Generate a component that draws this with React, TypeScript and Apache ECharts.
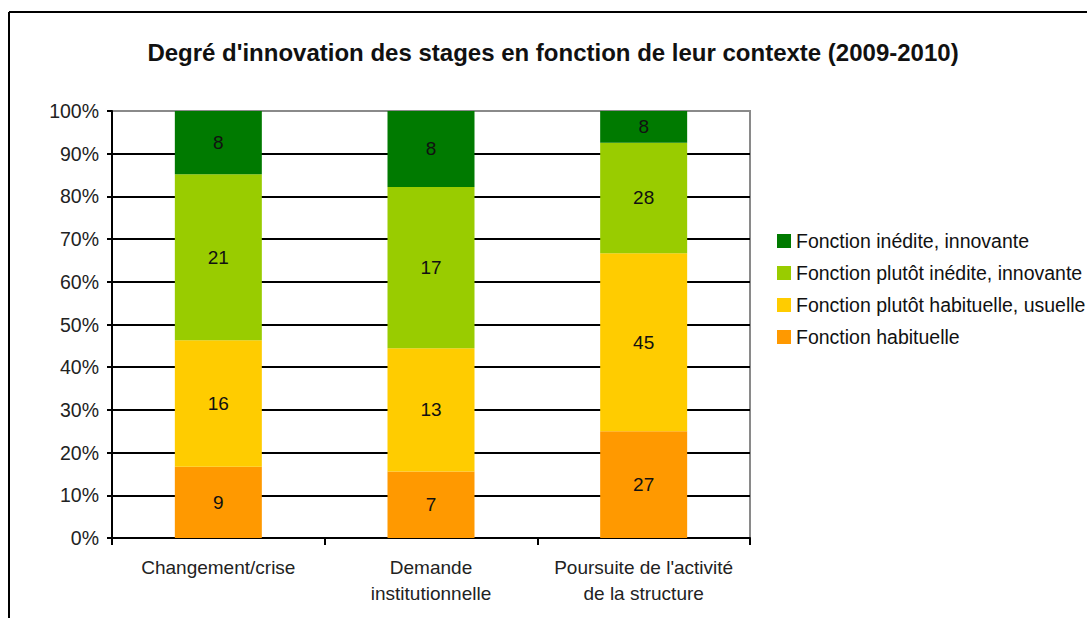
import React, { useEffect, useRef } from "react";
import * as echarts from "echarts";

const categories = ["Changement/crise", "Demande\ninstitutionnelle", "Poursuite de l'activité\nde la structure"];
const seriesNames = [
  "Fonction habituelle",
  "Fonction plutôt habituelle, usuelle",
  "Fonction plutôt inédite, innovante",
  "Fonction inédite, innovante",
];
const habituelle = [9, 7, 27];
const plutotHabituelle = [16, 13, 45];
const plutotInedite = [21, 17, 28];
const inedite = [8, 8, 8];
const colors = ["#FF9900", "#FFCC00", "#99CC00", "#007A00"];
const yTicks = [0, 10, 20, 30, 40, 50, 60, 70, 80, 90, 100];

export default function App() {
  const ref = useRef<HTMLDivElement>(null);
  useEffect(() => {
    document.body.style.margin = "0";
    const chart = echarts.init(ref.current!, undefined, { renderer: "svg" });
    const counts = [habituelle, plutotHabituelle, plutotInedite, inedite];
    const totals = categories.map((_, i) => counts.reduce((s, arr) => s + arr[i], 0));
    const font = "'Liberation Sans', Arial, sans-serif";
    chart.setOption({
      animation: false,
      backgroundColor: "#fff",
      textStyle: { fontFamily: font },
      title: {
        text: "Degré d'innovation des stages en fonction de leur contexte (2009-2010)",
        left: 548,
        top: 35,
        textAlign: "center",
        textStyle: { fontSize: 24, fontWeight: "bold", color: "#111", fontFamily: font },
      },
      legend: {
        orient: "vertical",
        left: 777,
        top: 231,
        padding: 0,
        itemWidth: 14,
        itemHeight: 14,
        itemGap: 12,
        icon: "rect",
        data: [...seriesNames].reverse(),
        textStyle: { fontSize: 19.5, color: "#111", fontFamily: font },
      },
      grid: {
        left: 112,
        right: 337,
        top: 111,
        bottom: 80,
        show: true,
        borderColor: "#8a8a8a",
        borderWidth: 2,
      },
      xAxis: {
        type: "category",
        data: categories,
        axisLine: { lineStyle: { color: "#000", width: 2 } },
        axisTick: { show: true, length: 7, lineStyle: { color: "#000", width: 2 } },
        axisLabel: { interval: 0, fontSize: 19, color: "#222", margin: 16, lineHeight: 26, fontFamily: font },
      },
      yAxis: {
        type: "value",
        min: 0,
        max: 100,
        interval: 10,
        axisLine: { show: true, lineStyle: { color: "#000", width: 2 } },
        axisTick: { show: true, length: 5, lineStyle: { color: "#000", width: 2 } },
        axisLabel: { fontSize: 19.5, color: "#222", margin: 13, formatter: (v: number) => (yTicks.includes(v) ? v + "%" : ""), fontFamily: font },
        splitLine: { show: true, showMinLine: false, showMaxLine: false, lineStyle: { color: "#000", width: 2 } },
      },
      graphic: [
        { type: "line", shape: { x1: 9, y1: 12, x2: 1087, y2: 12 }, style: { stroke: "#000", lineWidth: 2 } },
        { type: "line", shape: { x1: 9, y1: 12, x2: 9, y2: 618 }, style: { stroke: "#000", lineWidth: 2 } },
      ],
      series: counts.map((arr, si) => ({
        name: seriesNames[si],
        type: "bar",
        stack: "total",
        barWidth: 87,
        itemStyle: { color: colors[si] },
        label: {
          show: true,
          position: "inside",
          fontSize: 19,
          color: "#111",
          fontFamily: font,
          formatter: (p: any) => String(p.data.count),
        },
        data: arr.map((c, i) => ({ value: (c / totals[i]) * 100, count: c })),
      })),
    });
    return () => chart.dispose();
  }, []);
  return <div ref={ref} style={{ width: 1087, height: 618 }} />;
}
